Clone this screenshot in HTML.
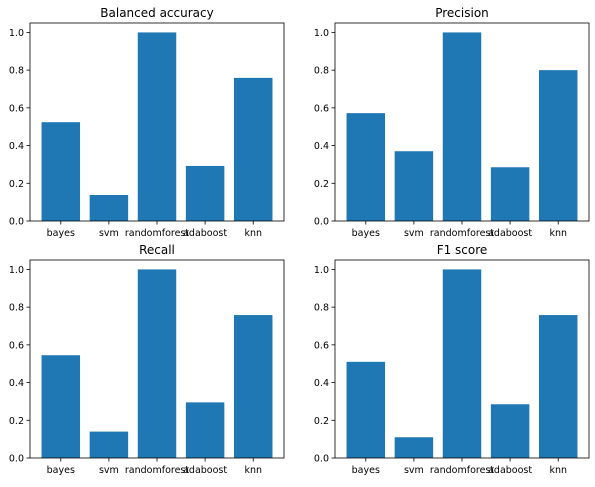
<!DOCTYPE html>
<html><head><meta charset="utf-8"><style>
body{margin:0;background:#fff;width:595px;height:482px;overflow:hidden}
svg text{font-family:"DejaVu Sans","Liberation Sans",sans-serif}
</style></head><body>
<svg id="c" width="595" height="482" xmlns="http://www.w3.org/2000/svg"></svg>
<script>
const categories = ["bayes","svm","randomforest","adaboost","knn"];
const titles = ["Balanced accuracy","Precision","Recall","F1 score"];
const balancedAccuracy = [0.524,0.138,1.0,0.292,0.759];
const precision = [0.572,0.37,1.0,0.285,0.80];
const recall = [0.545,0.14,1.0,0.295,0.758];
const f1Score = [0.51,0.11,1.0,0.285,0.758];
const yTicks = [0,0.2,0.4,0.6,0.8,1.0];
const series = [balancedAccuracy,precision,recall,f1Score];
const slugs = ["balanced-accuracy","precision","recall","f1-score"];
const svg = document.getElementById('c');
const NS = "http://www.w3.org/2000/svg";
function mk(tag, attrs, parent){const e=document.createElementNS(NS,tag);for(const k in attrs)e.setAttribute(k,attrs[k]);parent.appendChild(e);return e;}
const panels = [[30,23],[335,23],[30,260],[335,260]];
const W=254,H=198;
series.forEach((vals,p)=>{
  const [x0,y0]=panels[p];
  const g=mk('g',{},svg);
  
  
  const n=categories.length;
  const xmin=-0.4-0.05*(n-1+0.8), xmax=n-1+0.4+0.05*(n-1+0.8);
  const xs=v=>x0+(v-xmin)/(xmax-xmin)*W;
  const ys=v=>y0+H-v/1.05*H;
  vals.forEach((v,i)=>{
    const r=mk('rect',{x:xs(i-0.4),y:ys(v),width:xs(i+0.4)-xs(i-0.4),height:ys(0)-ys(v),fill:'#1f77b4'},g);
    
    
    mk('line',{x1:xs(i),x2:xs(i),y1:y0+H,y2:y0+H+3.5,stroke:'#000','stroke-width':0.8},g);
    const t=mk('text',{x:xs(i),y:y0+H+15,'font-size':9.5,'text-anchor':'middle'},g);
    t.textContent=categories[i];
    
    
  });
  yTicks.forEach(v=>{
    mk('line',{x1:x0-3.5,x2:x0,y1:ys(v),y2:ys(v),stroke:'#000','stroke-width':0.8},g);
    const t=mk('text',{x:x0-6,y:ys(v)+3.5,'font-size':9.5,'text-anchor':'end'},g);
    t.textContent=v.toFixed(1);
    
    
  });
  mk('rect',{x:x0,y:y0,width:W,height:H,fill:'none',stroke:'#000','stroke-width':0.8},g);
  const tt=mk('text',{x:x0+W/2,y:y0-6,'font-size':12,'text-anchor':'middle'},g);
  tt.textContent=titles[p];
  
  
});
</script>
</body></html>
